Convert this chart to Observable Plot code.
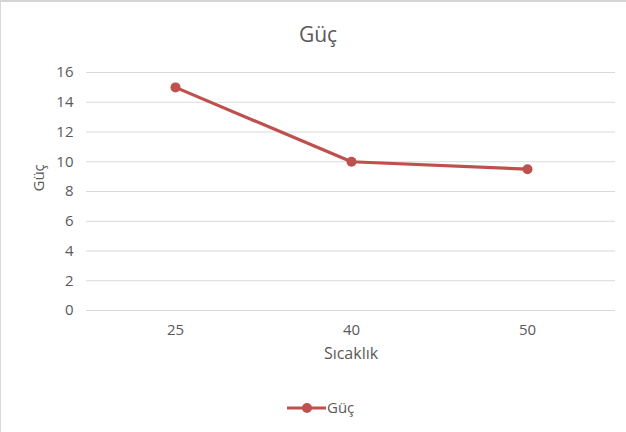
<!DOCTYPE html>
<html>
<head>
<meta charset="utf-8">
<script src="https://cdn.jsdelivr.net/npm/d3@7"></script>
<script src="https://cdn.jsdelivr.net/npm/@observablehq/plot@0.6"></script>
<style>
  html, body { margin: 0; padding: 0; background: #fff; }
  #chart { position: relative; width: 625px; height: 430px; border-top: 2px solid #d4d4d4; border-left: 1px solid #d9d9d9; font-family: "Open Sans", sans-serif; color: #595959; overflow: hidden; }
  #title { height: 53px; text-align: center; font-size: 21px; line-height: 21px; box-sizing: border-box; }
  #title span { display: inline-block; margin-top: 22px; margin-left: 9px; }
  #legend { height: 55px; position: relative; }
  svg { display: block; }
</style>
</head>
<body>
<div id="chart">
  <div id="title"><span>Güç</span></div>
  <div id="plot"></div>
  <div id="legend"></div>
</div>
<script>
const categories = ["25", "40", "50"];
const values = [15, 10, 9.5];
const yTicks = [0, 2, 4, 6, 8, 10, 12, 14, 16];
const seriesName = "Güç";
const xTitle = "Sıcaklık";
const yTitle = "Güç";
const color = "#C0504D";

const data = categories.map((c, i) => ({x: c, y: values[i]}));

const plot = Plot.plot({
  width: 625,
  height: 320,
  marginTop: 17,
  marginBottom: 65,
  marginLeft: 85,
  marginRight: 11,
  style: {fontFamily: "'Open Sans', sans-serif", fontSize: "15px", color: "#595959", background: "transparent"},
  x: {type: "point", domain: categories, padding: 0.5, label: null},
  y: {domain: [0, 16], label: null},
  marks: [
    Plot.gridY(yTicks, {stroke: "#d9d9d9", strokeOpacity: 1, strokeWidth: 1}),
    Plot.axisY(yTicks, {tickSize: 0, tickPadding: 13, label: null, fill: "#595959", fontSize: 15}),
    Plot.axisX({tickSize: 0, tickPadding: 14, label: null, fill: "#595959", fontSize: 15}),
    Plot.line(data, {x: "x", y: "y", stroke: color, strokeWidth: 3.2}),
    Plot.dot(data, {x: "x", y: "y", fill: color, r: 5}),
    Plot.text([xTitle], {frameAnchor: "bottom", dy: 48, text: d => d, fill: "#595959", fontSize: 16}),
    Plot.text([yTitle], {frameAnchor: "left", dx: -47, text: d => d, rotate: -90, fill: "#595959", fontSize: 15})
  ]
});
document.getElementById("plot").appendChild(plot);

// legend
const lg = d3.select("#legend").append("svg").attr("width", 625).attr("height", 55);
const ly = 33;
lg.append("line").attr("x1", 286).attr("x2", 325).attr("y1", ly).attr("y2", ly).attr("stroke", color).attr("stroke-width", 3.2);
lg.append("circle").attr("cx", 306).attr("cy", ly).attr("r", 5).attr("fill", color);
lg.append("text").attr("x", 326).attr("y", ly).attr("dy", "0.35em").attr("fill", "#595959").style("font-family", "'Open Sans', sans-serif").style("font-size", "15px").text(seriesName);
</script>
</body>
</html>
